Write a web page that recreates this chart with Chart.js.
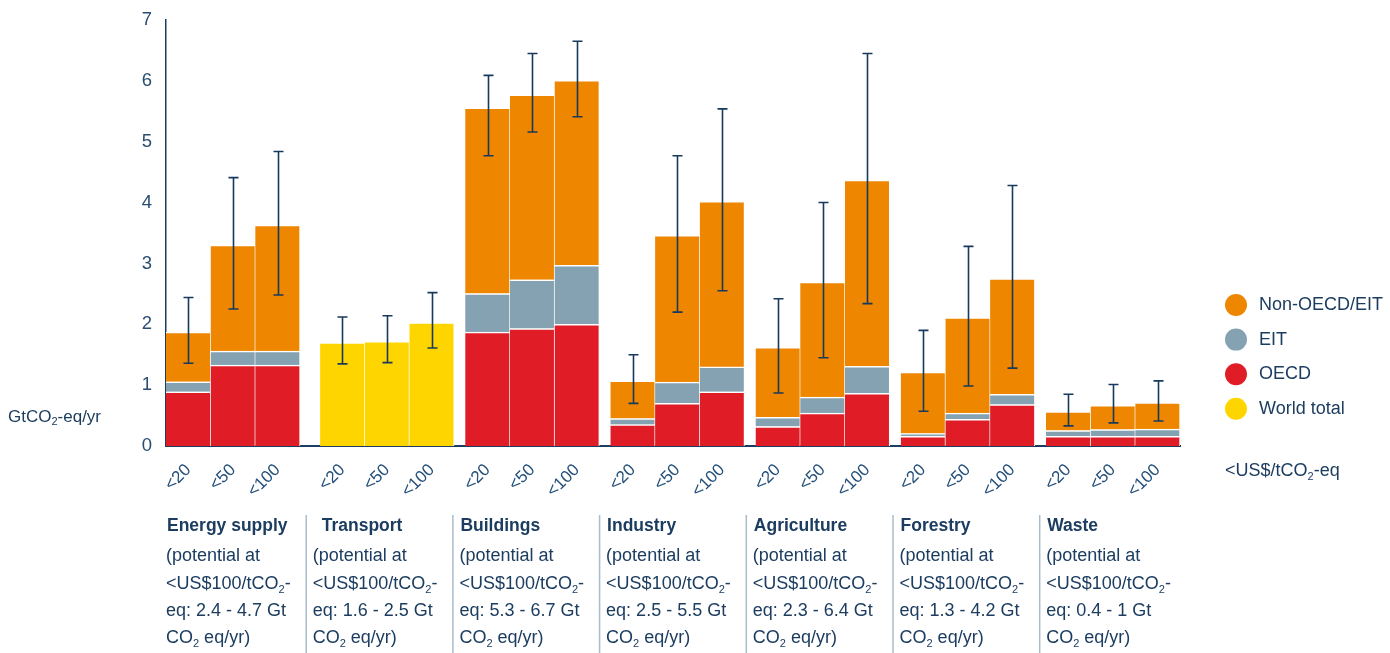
<!DOCTYPE html>
<html>
<head>
<meta charset="utf-8">
<title>Mitigation potential by sector</title>
<script src="https://cdn.jsdelivr.net/npm/chart.js@4.4.1/dist/chart.umd.min.js"></script>
<style>
    html, body { margin: 0; padding: 0; background: #fff; }
    #wrap { position: relative; width: 1390px; height: 653px; }
</style>
</head>
<body>
<div id="wrap"><canvas id="potential-chart"></canvas></div>
<script>
// Sectors and carbon price levels (US$/tCO2-eq)
const SECTORS = ['Energy supply', 'Transport', 'Buildings', 'Industry', 'Agriculture', 'Forestry', 'Waste'];
const PRICE_LEVELS = ['<20', '<50', '<100'];
const POTENTIAL_RANGES = ['2.4 - 4.7', '1.6 - 2.5', '5.3 - 6.7', '2.5 - 5.5', '2.3 - 6.4', '1.3 - 4.2', '0.4 - 1'];

// GtCO2-eq/yr, one value per sector and price level (transport only has a world total)
const OECD = [0.89, 1.33, 1.33, null, null, null, 1.87, 1.93, 2.00, 0.35, 0.70, 0.89,
    0.32, 0.54, 0.865, 0.16, 0.44, 0.68, 0.16, 0.16, 0.16];
const EIT = [0.165, 0.23, 0.23, null, null, null, 0.635, 0.80, 0.97, 0.10, 0.35, 0.41,
    0.15, 0.265, 0.445, 0.045, 0.10, 0.17, 0.094, 0.11, 0.12];
const NON_OECD = [0.815, 1.74, 2.07, null, null, null, 3.05, 3.04, 3.04, 0.62, 2.41, 2.72,
    1.15, 1.89, 3.06, 1.01, 1.57, 1.90, 0.31, 0.40, 0.433];
const WORLD_TOTAL = [null, null, null, 1.70, 1.72, 2.03, null, null, null, null, null, null,
    null, null, null, null, null, null, null, null, null];

// Uncertainty range of the total for each bar
const RANGE_LOW = [1.36, 2.25, 2.48, 1.35, 1.37, 1.61, 4.77, 5.16, 5.41, 0.70, 2.20, 2.55,
    0.87, 1.45, 2.34, 0.57, 0.985, 1.28, 0.33, 0.38, 0.41];
const RANGE_HIGH = [2.44, 4.41, 4.84, 2.12, 2.14, 2.52, 6.09, 6.45, 6.65, 1.50, 4.77, 5.54,
    2.42, 4.00, 6.45, 1.90, 3.28, 4.28, 0.85, 1.01, 1.07];

const Y_TICKS = [0, 1, 2, 3, 4, 5, 6, 7];

const COLORS = {
    oecd: '#e01d27',
    eit: '#84a2b2',
    nonOecd: '#ee8600',
    world: '#ffd500',
    ink: '#1c3d60',
    errorBar: '#173a5c',
    divider: '#a9bccb'
};

const FONT = '"Liberation Sans", Arial, sans-serif';
const GROUP_STEP = 3.25;     // bar widths between the start of two sectors
const LABEL_STEP = 146.7;    // px between sector descriptions

// x position (in bar widths) of bar i
function barX(i) {
    const g = Math.floor(i / 3);
    return g * GROUP_STEP + (g > 0 ? 0.2 : 0) + (i % 3);
}

function toPoints(values) {
    return values.map((v, i) => v == null ? null : { x: barX(i), y: v }).filter(p => p);
}

// Draw a line of text where "_x" puts x as a subscript
function drawRich(ctx, text, x, y, size, weight) {
    const parts = text.split(/_(.)/);
    let cx = x;
    parts.forEach((part, k) => {
        if (!part) return;
        const sub = k % 2 === 1;
        ctx.font = `${weight || 'normal'} ${sub ? Math.round(size * 0.62) : size}px ${FONT}`;
        ctx.fillText(part, cx, sub ? y + size * 0.32 : y);
        cx += ctx.measureText(part).width;
    });
}

const errorBarPlugin = {
    id: 'errorBars',
    afterDatasetsDraw(chart) {
        const { ctx, scales: { x, y } } = chart;
        ctx.save();
        ctx.strokeStyle = COLORS.errorBar;
        ctx.lineWidth = 1.6;
        RANGE_LOW.forEach((lo, i) => {
            const px = Math.round(x.getPixelForValue(barX(i))) + 0.5;
            const yLo = y.getPixelForValue(lo);
            const yHi = y.getPixelForValue(RANGE_HIGH[i]);
            ctx.beginPath();
            ctx.moveTo(px, yLo);
            ctx.lineTo(px, yHi);
            ctx.moveTo(px - 5, yLo);
            ctx.lineTo(px + 5, yLo);
            ctx.moveTo(px - 5, yHi);
            ctx.lineTo(px + 5, yHi);
            ctx.stroke();
        });
        ctx.restore();
    }
};

const annotationPlugin = {
    id: 'annotations',
    afterDraw(chart) {
        const { ctx, chartArea } = chart;
        ctx.save();
        ctx.fillStyle = COLORS.ink;
        ctx.textBaseline = 'middle';
        ctx.textAlign = 'left';

        // y axis unit
        drawRich(ctx, 'GtCO_2-eq/yr', 8, 417, 17);

        // legend, top of the stack first
        const items = chart.data.datasets.slice().reverse();
        items.forEach((ds, k) => {
            const cy = 305 + k * 34.6;
            ctx.beginPath();
            ctx.fillStyle = ds.backgroundColor;
            ctx.arc(chartArea.right + 56, cy, 11, 0, Math.PI * 2);
            ctx.fill();
            ctx.fillStyle = COLORS.ink;
            drawRich(ctx, ds.label, chartArea.right + 79, cy, 18);
        });

        // price axis unit
        drawRich(ctx, '<US$/tCO_2-eq', chartArea.right + 45, 471, 18);

        // sector descriptions below the price labels
        SECTORS.forEach((name, g) => {
            const left = chartArea.left + g * LABEL_STEP;
            if (g > 0) {
                ctx.strokeStyle = COLORS.divider;
                ctx.lineWidth = 1.5;
                ctx.beginPath();
                ctx.moveTo(left - 6.5, 515);
                ctx.lineTo(left - 6.5, 653);
                ctx.stroke();
            }
            ctx.fillStyle = COLORS.ink;
            drawRich(ctx, name, left + (g === 1 ? 9 : 1), 526, 17.5, 'bold');
            const lines = [
                '(potential at',
                '<US$100/tCO_2-',
                'eq: ' + POTENTIAL_RANGES[g] + ' Gt',
                'CO_2 eq/yr)'
            ];
            lines.forEach((line, k) => drawRich(ctx, line, left, 556.5 + k * 27.3, 18));
        });
        ctx.restore();
    }
};

document.addEventListener('DOMContentLoaded', function() {
    const ctx = document.getElementById('potential-chart').getContext('2d');
    const barStyle = {
        borderColor: '#ffffff',
        borderWidth: { top: 1.5, right: 1, bottom: 0, left: 0 },
        borderSkipped: false,
        categoryPercentage: 1,
        barPercentage: 1
    };

    new Chart(ctx, {
        type: 'bar',
        data: {
            datasets: [
                Object.assign({ label: 'World total', data: toPoints(WORLD_TOTAL), backgroundColor: COLORS.world }, barStyle),
                Object.assign({ label: 'OECD', data: toPoints(OECD), backgroundColor: COLORS.oecd }, barStyle),
                Object.assign({ label: 'EIT', data: toPoints(EIT), backgroundColor: COLORS.eit }, barStyle),
                Object.assign({ label: 'Non-OECD/EIT', data: toPoints(NON_OECD), backgroundColor: COLORS.nonOecd }, barStyle)
            ]
        },
        options: {
            responsive: true,
            maintainAspectRatio: false,
            animation: false,
            layout: { padding: { left: 0, right: 210, top: 20, bottom: 0 } },
            plugins: {
                legend: { display: false },
                tooltip: { enabled: false }
            },
            scales: {
                x: {
                    type: 'linear',
                    stacked: true,
                    offset: false,
                    min: -0.5,
                    max: barX(20) + 0.5,
                    grid: { display: false },
                    border: { color: COLORS.ink, width: 2 },
                    afterBuildTicks: function(scale) {
                        scale.ticks = OECD.map((v, i) => ({ value: barX(i) }));
                    },
                    afterFit: function(scale) {
                        scale.height = 207;
                    },
                    ticks: {
                        autoSkip: false,
                        minRotation: 45,
                        maxRotation: 45,
                        padding: 6,
                        color: '#24507a',
                        font: { family: FONT, size: 17 },
                        callback: function(value, index) {
                            return PRICE_LEVELS[index % 3];
                        }
                    }
                },
                y: {
                    stacked: true,
                    min: 0,
                    max: 7,
                    grid: { display: false },
                    border: { color: COLORS.ink, width: 1.5 },
                    afterBuildTicks: function(scale) {
                        scale.ticks = Y_TICKS.map(v => ({ value: v }));
                    },
                    afterFit: function(scale) {
                        scale.width = 166;
                    },
                    ticks: {
                        padding: 6,
                        color: '#2a4d72',
                        font: { family: FONT, size: 18.5 }
                    }
                }
            }
        },
        plugins: [errorBarPlugin, annotationPlugin]
    });
});
</script>
</body>
</html>
